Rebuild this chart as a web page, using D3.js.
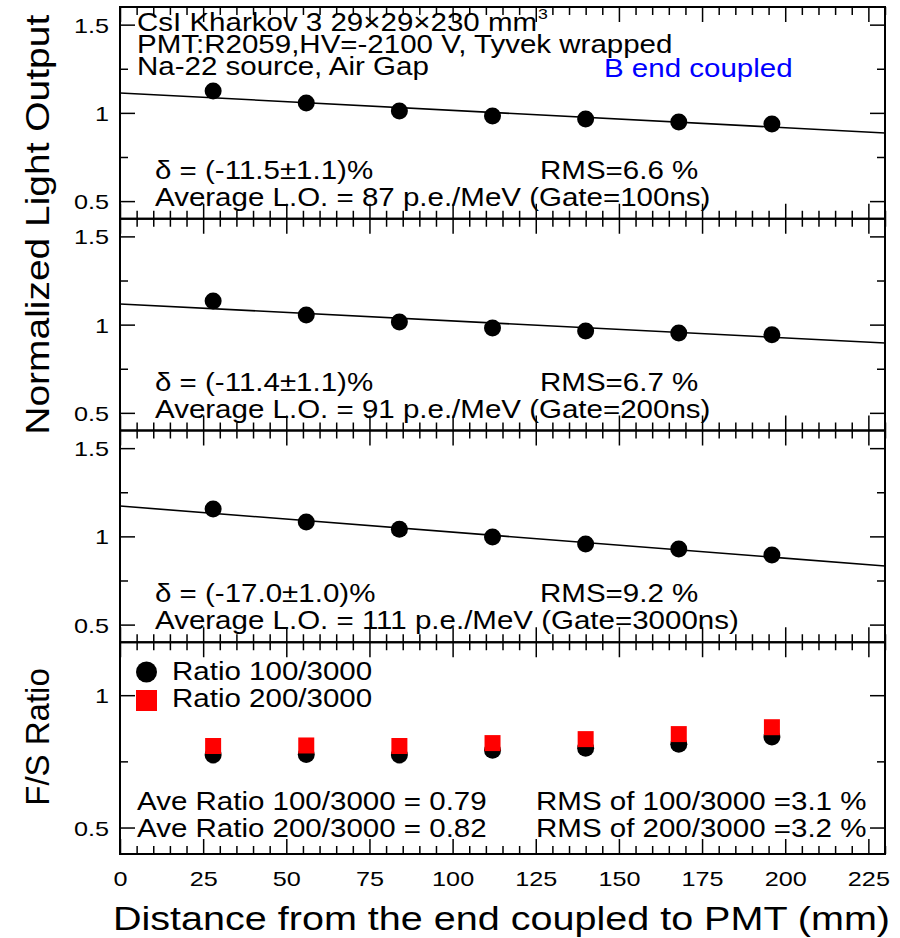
<!DOCTYPE html>
<html>
<head>
<meta charset="utf-8">
<script src="https://cdn.jsdelivr.net/npm/d3@7"></script>
<style>
  body { margin: 0; background: #fff; }
  text { font-family: "Liberation Sans", Arial, Helvetica, sans-serif; fill: #000; }
</style>
</head>
<body>
<svg id="chart" width="900" height="938"></svg>
<script>
// Distance of each measurement point from the PMT-coupled end (mm)
const positions = [28, 56, 84, 112, 140, 168, 196];

// Normalized light output for three integration gates
const lo100 = [1.124, 1.056, 1.011, 0.982, 0.965, 0.948, 0.937];
const lo200 = [1.134, 1.055, 1.015, 0.981, 0.964, 0.953, 0.942];
const lo3000 = [1.155, 1.081, 1.041, 0.997, 0.957, 0.928, 0.894];

// Linear fits: value at 0 mm and slope per mm
const fitIntercept = [1.113, 1.117, 1.172];
const fitSlope = [-0.000987, -0.000960, -0.001478];

// Fast/slow ratios
const ratio100 = [0.774, 0.776, 0.774, 0.792, 0.800, 0.815, 0.842];
const ratio200 = [0.808, 0.810, 0.808, 0.819, 0.834, 0.853, 0.879];

// Labels
const headerLines = ["CsI Kharkov 3 29\u00d729\u00d7230 mm", "PMT:R2059,HV=-2100 V, Tyvek wrapped", "Na-22 source, Air Gap"];
const coupledLabel = "B end coupled";
const deltaLabels = ["\u03b4 = (-11.5\u00b11.1)%", "\u03b4 = (-11.4\u00b11.1)%", "\u03b4 = (-17.0\u00b11.0)%"];
const rmsLabels = ["RMS=6.6 %", "RMS=6.7 %", "RMS=9.2 %"];
const avgLabels = ["Average L.O. = 87 p.e./MeV (Gate=100ns)", "Average L.O. = 91 p.e./MeV (Gate=200ns)", "Average L.O. = 111 p.e./MeV (Gate=3000ns)"];
const legendLabels = ["Ratio 100/3000", "Ratio 200/3000"];
const aveRatioLabels = ["Ave Ratio 100/3000 = 0.79", "Ave Ratio 200/3000 = 0.82"];
const rmsRatioLabels = ["RMS of 100/3000 =3.1 %", "RMS of 200/3000 =3.2 %"];
const xTitle = "Distance from the end coupled to PMT (mm)";
const yTitleLO = "Normalized Light Output";
const yTitleRatio = "F/S Ratio";

// Ticks
const xMajor = [0, 25, 50, 75, 100, 125, 150, 175, 200, 225];
const xMinor = d3.range(0, 231, 5).filter(v => v % 25 !== 0);
const loMajor = [0.5, 1, 1.5];
const loMinor = [0.75, 1.25];
const ratioMajor = [0.5, 1];
const ratioMinor = [0.75];

// ---------------- layout ----------------
const svg = d3.select("#chart");
const L = 120, R = 885, TOP = 7, BOT = 854;
const panelH = (BOT - TOP) / 4;
const K = 1.18;          // horizontal text stretch
const MAJ = 15, MIN = 8;

function stretch(sel, k) {
  sel.each(function () {
    const w = this.getComputedTextLength();
    d3.select(this).attr("textLength", w * k).attr("lengthAdjust", "spacingAndGlyphs");
  });
  return sel;
}

const x = d3.scaleLinear().domain([0, 230]).range([L, R]);

const panels = [0, 1, 2, 3].map(i => {
  const top = TOP + i * panelH, bottom = TOP + (i + 1) * panelH;
  const domain = i < 3 ? [0.4, 1.6] : [0.4, 1.2];
  return { i, top, bottom, y: d3.scaleLinear().domain(domain).range([bottom, top]) };
});

const loSeries = [lo100, lo200, lo3000];

panels.forEach(p => {
  const g = svg.append("g");
  const major = p.i < 3 ? loMajor : ratioMajor;
  const minor = p.i < 3 ? loMinor : ratioMinor;
  const fmt = d => (d === 1 ? "1" : String(d));

  // left axis with labels
  const left = g.append("g").attr("transform", `translate(${L},0)`)
    .call(d3.axisLeft(p.y).tickValues(major).tickSize(-MAJ).tickPadding(11).tickFormat(fmt));
  g.append("g").attr("transform", `translate(${L},0)`)
    .call(d3.axisLeft(p.y).tickValues(minor).tickSize(-MIN).tickFormat(""));
  // right axis
  g.append("g").attr("transform", `translate(${R},0)`)
    .call(d3.axisRight(p.y).tickValues(major).tickSize(-MAJ).tickFormat(""));
  g.append("g").attr("transform", `translate(${R},0)`)
    .call(d3.axisRight(p.y).tickValues(minor).tickSize(-MIN).tickFormat(""));
  // top / bottom x ticks
  g.append("g").attr("transform", `translate(0,${p.top})`)
    .call(d3.axisTop(x).tickValues(xMajor).tickSize(-MAJ).tickFormat(""));
  g.append("g").attr("transform", `translate(0,${p.top})`)
    .call(d3.axisTop(x).tickValues(xMinor).tickSize(-MIN).tickFormat(""));
  const bottomAxis = g.append("g").attr("transform", `translate(0,${p.bottom})`)
    .call(d3.axisBottom(x).tickValues(xMajor).tickSize(-MAJ).tickPadding(17)
      .tickFormat(p.i === 3 ? d => String(d) : ""));
  g.append("g").attr("transform", `translate(0,${p.bottom})`)
    .call(d3.axisBottom(x).tickValues(xMinor).tickSize(-MIN).tickFormat(""));

  g.selectAll(".domain").remove();
  g.selectAll(".tick line").attr("stroke", "#000").attr("stroke-width", 1.5);
  g.selectAll(".tick text").attr("font-size", 21).attr("fill", "#000")
    .style("font-family", '"Liberation Sans", Arial, sans-serif');
  stretch(left.selectAll(".tick text").attr("dy", "0.36em"), 1.2);
  if (p.i === 3) stretch(bottomAxis.selectAll(".tick text").attr("dy", "0.71em"), 1.2);

  // frame
  g.append("rect").attr("x", L).attr("y", p.top).attr("width", R - L).attr("height", p.bottom - p.top)
    .attr("fill", "none").attr("stroke", "#000").attr("stroke-width", 2);

  const clipId = "clip" + p.i;
  svg.append("clipPath").attr("id", clipId).append("rect")
    .attr("x", L).attr("y", p.top).attr("width", R - L).attr("height", p.bottom - p.top);

  if (p.i < 3) {
    const vals = loSeries[p.i];
    // fit line
    const line = d3.line().x(d => x(d)).y(d => p.y(fitIntercept[p.i] + fitSlope[p.i] * d));
    g.append("path").datum([0, 230]).attr("d", line).attr("clip-path", `url(#${clipId})`)
      .attr("fill", "none").attr("stroke", "#000").attr("stroke-width", 1.6);
    // points
    g.selectAll("circle.pt").data(positions).join("circle").attr("class", "pt")
      .attr("cx", d => x(d)).attr("cy", (d, j) => p.y(vals[j])).attr("r", 8.5).attr("fill", "#000");

    // annotations
    stretch(g.append("text").attr("x", 155).attr("y", p.bottom - 40).attr("font-size", 25).text(deltaLabels[p.i]), K);
    stretch(g.append("text").attr("x", 540).attr("y", p.bottom - 40).attr("font-size", 25).text(rmsLabels[p.i]), K);
    stretch(g.append("text").attr("x", 155).attr("y", p.bottom - 13).attr("font-size", 25).text(avgLabels[p.i]), K);
  } else {
    // ratio points: circles beneath, squares on top
    g.selectAll("circle.r100").data(positions).join("circle").attr("class", "r100")
      .attr("cx", d => x(d)).attr("cy", (d, j) => p.y(ratio100[j])).attr("r", 8.5).attr("fill", "#000");
    g.selectAll("rect.r200").data(positions).join("rect").attr("class", "r200")
      .attr("x", d => x(d) - 8).attr("y", (d, j) => p.y(ratio200[j]) - 8)
      .attr("width", 16).attr("height", 16).attr("fill", "#ff0000");

    // legend
    g.append("circle").attr("cx", 146.5).attr("cy", 672).attr("r", 10.5).attr("fill", "#000");
    g.append("rect").attr("x", 136).attr("y", 690).attr("width", 21).attr("height", 21).attr("fill", "#ff0000");
    stretch(g.append("text").attr("x", 172).attr("y", 680).attr("font-size", 25).text(legendLabels[0]), K);
    stretch(g.append("text").attr("x", 172).attr("y", 707).attr("font-size", 25).text(legendLabels[1]), K);

    aveRatioLabels.forEach((t, j) => {
      stretch(g.append("text").attr("x", 137).attr("y", p.bottom - 44 + j * 27).attr("font-size", 25).text(t), K);
    });
    rmsRatioLabels.forEach((t, j) => {
      stretch(g.append("text").attr("x", 536).attr("y", p.bottom - 44 + j * 27).attr("font-size", 25).text(t), K);
    });
  }
});

// header text in the top panel
headerLines.forEach((t, j) => {
  const el = svg.append("text").attr("x", 137).attr("y", 31 + j * 22).attr("font-size", 25).text(t);
  stretch(el, K);
  if (j === 0) {
    const end = 137 + +el.attr("textLength");
    stretch(svg.append("text").attr("x", end + 1).attr("y", 19).attr("font-size", 15).text("3"), K);
  }
});
stretch(svg.append("text").attr("x", 604).attr("y", 77).attr("font-size", 25)
  .style("fill", "#0000ff").text(coupledLabel), K);

// axis titles
stretch(svg.append("text").attr("x", (L + R) / 2 - 1).attr("y", 930).attr("font-size", 33.5)
  .attr("text-anchor", "middle").text(xTitle), K);
stretch(svg.append("text").attr("transform", `translate(49,${(panels[0].top + panels[1].bottom) / 2 + 6}) rotate(-90)`)
  .attr("font-size", 33).attr("text-anchor", "middle").text(yTitleLO), K);
svg.append("text").attr("transform", `translate(49,737) rotate(-90)`)
  .attr("font-size", 33).attr("text-anchor", "middle").text(yTitleRatio);
</script>
</body>
</html>
